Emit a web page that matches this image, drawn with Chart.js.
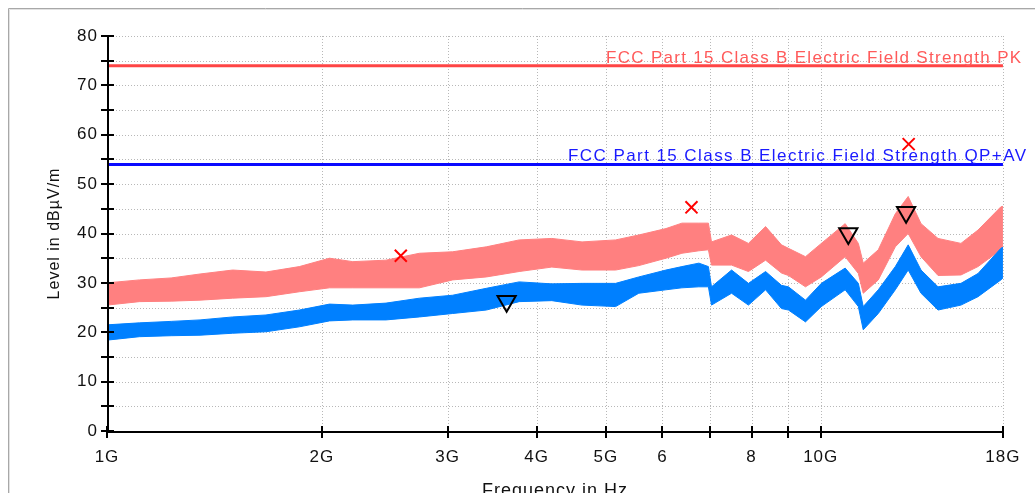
<!DOCTYPE html>
<html><head><meta charset="utf-8">
<script src="https://cdn.jsdelivr.net/npm/chart.js@4.4.1/dist/chart.umd.min.js"></script>
<style>html,body{margin:0;padding:0;overflow:hidden;background:#fff}#wrap{width:1035px;height:505px}</style>
</head><body><div id="wrap"><canvas id="c" width="1035" height="505"></canvas></div>
<script>
// ---- data ----
const freqGHz = [1.00,1.11,1.23,1.35,1.50,1.67,1.86,2.05,2.21,2.46,2.74,3.05,3.40,3.78,4.20,4.63,5.16,5.56,6.07,6.39,6.75,6.96,7.03,7.50,7.92,8.37,8.81,9.01,9.52,10.02,10.82,11.29,11.47,12.04,12.72,13.26,13.82,14.60,15.72,16.61,17.88,18.00];
const pkLow  = [25.5,26.2,26.3,26.5,26.9,27.2,28.2,29.0,29.0,29.0,29.0,30.6,31.2,32.3,33.2,32.6,32.6,33.5,35.0,36.0,36.5,36.7,33.6,33.6,32.3,34.6,32.0,31.5,29.2,31.2,35.3,31.9,27.9,30.6,37.3,40.0,35.3,31.5,31.6,33.3,36.7,37.0];
const pkHigh = [30.0,30.6,31.0,31.8,32.6,32.2,33.3,35.0,34.3,34.6,36.0,36.3,37.3,38.7,39.0,38.3,38.7,39.7,41.0,42.1,42.1,42.1,38.3,39.7,38.0,41.4,37.7,37.0,35.3,38.0,42.0,38.0,34.0,36.7,44.0,47.5,42.0,39.0,38.0,40.7,45.4,45.5];
const avLow  = [18.4,19.1,19.3,19.4,19.8,20.1,21.1,22.3,22.5,22.5,23.1,23.8,24.5,26.2,26.4,25.5,25.2,27.9,28.6,29.0,29.2,29.2,25.5,27.9,25.5,28.6,24.8,24.5,22.1,25.2,28.6,25.2,20.5,23.8,28.6,32.6,27.9,24.5,25.5,27.2,30.6,31.0];
const avHigh = [21.5,21.9,22.2,22.5,23.1,23.5,24.5,25.7,25.5,25.9,26.9,27.5,28.9,30.2,29.8,29.9,29.9,31.2,32.6,33.3,34.0,33.3,29.2,32.6,29.9,32.3,29.5,29.2,26.5,29.9,33.0,29.9,25.2,28.6,33.3,37.7,32.6,29.2,29.9,31.9,37.0,37.2];
const limitFreqGHz = [1, 18];
const limitPK = 74;
const limitAV = 54;
const limitPKLabel = 'FCC Part 15 Class B Electric Field Strength PK';
const limitAVLabel = 'FCC Part 15 Class B Electric Field Strength QP+AV';
const pkMarkFreqGHz = [2.58, 6.59, 13.28];
const pkMarkLevel   = [35.5, 45.3, 58.1];
const avMarkFreqGHz = [3.63, 10.93, 13.17];
const avMarkLevel   = [26.3, 40.0, 44.3];
const xTickGHz    = [1,2,3,4,5,6,7,8,9,10,18];
const xTickLabels = ['1G','2G','3G','4G','5G','6','','8','','10G','18G'];
const yMin = 0, yMax = 80, yStep = 10, yGridStep = 5;
const xTitle = 'Frequency in Hz';
const yTitle = 'Level in dB\u00B5V/m';

const G = 1e9;
const pts = (fs, vs) => fs.map((f, i) => ({x: f * G, y: vs[i]}));
const FONT = 'Liberation Sans';

const decor = {
  id: 'decor',
  beforeDraw(chart) {
    const ctx = chart.ctx, a = chart.chartArea;
    const xs = chart.scales.x, ys = chart.scales.y;
    ctx.save();
    // outer frame
    ctx.strokeStyle = '#a8a8a8'; ctx.lineWidth = 1;
    ctx.beginPath(); ctx.moveTo(8.5, 600); ctx.lineTo(8.5, 8.5); ctx.lineTo(1100, 8.5); ctx.stroke();
    ctx.strokeStyle = '#e2e2e2';
    ctx.beginPath(); ctx.moveTo(9.5, 600); ctx.lineTo(9.5, 9.5); ctx.lineTo(1100, 9.5); ctx.stroke();
    // dotted grid
    ctx.strokeStyle = '#b8b8b8'; ctx.lineWidth = 1; ctx.setLineDash([1, 2]);
    for (let v = yMin + yGridStep; v <= yMax; v += yGridStep) {
      const y = Math.round(ys.getPixelForValue(v)) + 0.5;
      ctx.beginPath(); ctx.moveTo(a.left, y); ctx.lineTo(a.right, y); ctx.stroke();
    }
    xTickGHz.forEach((f, i) => {
      if (i === 0) return;
      const x = Math.round(xs.getPixelForValue(f * G)) + 0.5;
      ctx.beginPath(); ctx.moveTo(x, a.top); ctx.lineTo(x, a.bottom); ctx.stroke();
    });
    ctx.restore();
    // wider glyph spacing for axis texts (reference font is widely spaced)
    ctx.letterSpacing = '1px';
  },
  afterDatasetsDraw(chart) {
    const ctx = chart.ctx, a = chart.chartArea;
    const xs = chart.scales.x, ys = chart.scales.y;
    ctx.save();
    ctx.strokeStyle = '#000'; ctx.lineWidth = 2;
    ctx.beginPath();
    ctx.moveTo(a.left + 1, a.top); ctx.lineTo(a.left + 1, a.bottom + 1);
    ctx.lineTo(a.right, a.bottom + 1);
    ctx.stroke();
    ctx.beginPath();
    for (let v = yMin; v <= yMax; v += yGridStep) {
      const y = Math.round(ys.getPixelForValue(v));
      ctx.moveTo(a.left - 6, y); ctx.lineTo(a.left + 7, y);
    }
    xTickGHz.forEach(f => {
      const x = Math.round(xs.getPixelForValue(f * G));
      ctx.moveTo(x, a.bottom - 5); ctx.lineTo(x, a.bottom + 7);
    });
    ctx.stroke();
    // limit labels
    const drawLabel = (txt, color, value, leftX, rightX, gap) => {
      ctx.font = '17px "' + FONT + '"';
      ctx.letterSpacing = '0px';
      const w = ctx.measureText(txt).width;
      const ls = ((rightX - leftX) - w) / (txt.length - 1);
      ctx.letterSpacing = ls.toFixed(2) + 'px';
      ctx.fillStyle = color; ctx.textAlign = 'left'; ctx.textBaseline = 'alphabetic';
      ctx.fillText(txt, leftX, ys.getPixelForValue(value) - gap);
    };
    drawLabel(limitPKLabel, '#ff5a5a', limitPK, xs.getPixelForValue(limitFreqGHz[0] * G) + 499, a.right + 18, 3);
    drawLabel(limitAVLabel, '#1a1aff', limitAV, xs.getPixelForValue(limitFreqGHz[0] * G) + 461, a.right + 23, 3.5);
    ctx.restore();
  }
};

new Chart(document.getElementById('c'), {
  type: 'line',
  data: {
    datasets: [
      {data: pts(pkMarkFreqGHz, pkMarkLevel), showLine: false, pointStyle: 'crossRot', pointRadius: 8.5,
       pointBorderColor: '#ff0000', pointBorderWidth: 2, order: 0},
      {data: pts(avMarkFreqGHz, avMarkLevel), showLine: false, pointStyle: 'triangle', pointRotation: 180, pointRadius: 10.5,
       pointBorderColor: '#000000', pointBackgroundColor: 'rgba(0,0,0,0)', pointBorderWidth: 2, order: 1},
      {data: pts(limitFreqGHz, [limitPK, limitPK]), borderColor: '#ff4545', borderWidth: 3, pointRadius: 0, fill: false, order: 2},
      {data: pts(limitFreqGHz, [limitAV, limitAV]), borderColor: '#0a0aff', borderWidth: 3, pointRadius: 0, fill: false, order: 3},
      {data: pts(freqGHz, avHigh), borderColor: '#0080ff', backgroundColor: '#0080ff', borderWidth: 1, pointRadius: 0, fill: 5, order: 4},
      {data: pts(freqGHz, avLow), borderColor: '#0080ff', borderWidth: 1, pointRadius: 0, fill: false, order: 5},
      {data: pts(freqGHz, pkHigh), borderColor: '#ff8080', backgroundColor: '#ff8080', borderWidth: 1, pointRadius: 0, fill: 7, order: 6},
      {data: pts(freqGHz, pkLow), borderColor: '#ff8080', borderWidth: 1, pointRadius: 0, fill: false, order: 7}
    ]
  },
  options: {
    responsive: false, animation: false, devicePixelRatio: 1,
    layout: {padding: {left: 0, right: 30, top: 36, bottom: 0}},
    plugins: {legend: {display: false}, tooltip: {enabled: false}},
    elements: {line: {tension: 0}},
    scales: {
      x: {
        type: 'logarithmic', min: 1 * G, max: 18 * G,
        grid: {display: false, drawTicks: false}, border: {display: false},
        afterBuildTicks: s => { s.ticks = xTickGHz.map(f => ({value: f * G})); },
        afterFit: s => { s.height = 74; },
        ticks: {autoSkip: false, maxRotation: 0, padding: 16, color: '#111',
                font: {family: FONT, size: 17},
                callback: (v, i) => xTickLabels[i]},
        title: {display: true, text: xTitle, color: '#111', font: {family: FONT, size: 18},
                padding: {top: 0, bottom: 3}}
      },
      y: {
        min: yMin, max: yMax,
        grid: {display: false, drawTicks: false}, border: {display: false},
        afterFit: s => { s.width = 107; },
        ticks: {stepSize: yStep, padding: 9, color: '#111', font: {family: FONT, size: 17}},
        title: {display: true, text: yTitle, color: '#111', font: {family: FONT, size: 16},
                padding: {top: 45, bottom: 0}}
      }
    }
  },
  plugins: [decor]
});
</script></body></html>
